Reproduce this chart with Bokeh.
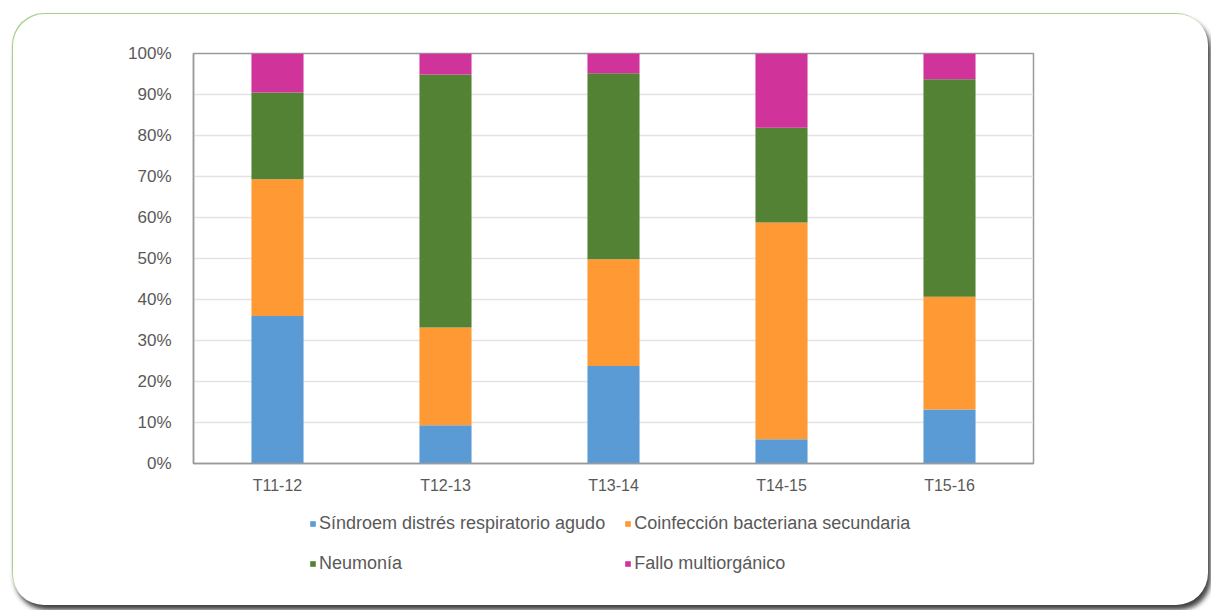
from bokeh.plotting import figure
from bokeh.layouts import column
from bokeh.models import ColumnDataSource, Legend, LegendItem, NumeralTickFormatter, FixedTicker, Range1d
from bokeh.embed import file_html
from bokeh.resources import INLINE

categories = ["T11-12", "T12-13", "T13-14", "T14-15", "T15-16"]
sdra = [36.0, 9.3, 23.8, 5.9, 13.2]
coinfeccion = [33.3, 23.9, 26.0, 52.9, 27.5]
neumonia = [21.2, 61.7, 45.4, 23.1, 53.0]
fallo = [9.5, 5.1, 4.8, 18.1, 6.3]
series_names = ["Síndroem distrés respiratorio agudo", "Coinfección bacteriana secundaria",
                "Neumonía", "Fallo multiorgánico"]
colors = ["#5B9BD5", "#FF9933", "#548235", "#D0339A"]
y_ticks = [0, 0.1, 0.2, 0.3, 0.4, 0.5, 0.6, 0.7, 0.8, 0.9, 1.0]

keys = ["s", "c", "n", "f"]
data = {"cat": categories,
        "s": [v / 100 for v in sdra],
        "c": [v / 100 for v in coinfeccion],
        "n": [v / 100 for v in neumonia],
        "f": [v / 100 for v in fallo]}
src = ColumnDataSource(data)

FONT = "Liberation Sans"
TXT = "#595959"

p = figure(x_range=categories, y_range=Range1d(0, 1), width=1196, height=494,
           output_backend="svg", toolbar_location=None,
           min_border_left=181, min_border_right=175, min_border_top=40, min_border_bottom=44)
p.border_fill_alpha = 0
p.background_fill_color = "white"
p.outline_line_color = "#9a9a9a"
p.outline_line_width = 1.5

renderers = p.vbar_stack(keys, x="cat", width=0.31, source=src, color=colors, line_color=None)

p.yaxis.ticker = FixedTicker(ticks=y_ticks)
p.yaxis.formatter = NumeralTickFormatter(format="0%")
for ax in (p.xaxis, p.yaxis):
    ax.axis_line_color = "#9a9a9a"
    ax.axis_line_width = 1.5
    ax.major_tick_line_color = None
    ax.minor_tick_line_color = None
    ax.major_label_text_font = FONT
    ax.major_label_text_color = TXT
p.yaxis.major_label_text_font_size = "17px"
p.xaxis.major_label_text_font_size = "16px"
p.yaxis.major_label_standoff = 16
p.xaxis.major_label_standoff = 7
p.xgrid.grid_line_color = None
p.ygrid.grid_line_color = "#e3e3e3"
p.ygrid.grid_line_width = 1.5

# legend lives in its own strip below the chart (its frame is aligned with the chart's frame)
lg = figure(width=1196, height=98, output_backend="svg", toolbar_location=None,
            x_axis_type=None, y_axis_type=None, x_range=categories, y_range=Range1d(2, 3),
            min_border=0)
lg.border_fill_alpha = 0
lg.background_fill_alpha = 0
lg.outline_line_color = None
lg.grid.grid_line_color = None
leg_renderers = lg.vbar_stack(keys, x="cat", width=0.31, source=src, color=colors, line_color=None)
items = [LegendItem(label=n, renderers=[r]) for n, r in zip(series_names, leg_renderers)]
legend = Legend(items=items, ncols=2, location=(116, 31), orientation="horizontal",
                label_text_font=FONT, label_text_font_size="18px", label_text_color=TXT,
                glyph_width=7, glyph_height=7, label_standoff=3, spacing=19,
                label_height=20, padding=0, margin=0, border_line_color=None,
                background_fill_alpha=0)
lg.add_layout(legend, "center")

layout = column(p, lg, spacing=0)
layout.styles = {"border-radius": "32px", "background-color": "white",
                 "margin-left": "12px", "margin-top": "13px",
                 "box-shadow": "inset 1px 1px 0 #a9d18e, 3px 5px 5px rgba(0,0,0,0.75)"}

open("out.html", "w").write(file_html(layout, INLINE))
